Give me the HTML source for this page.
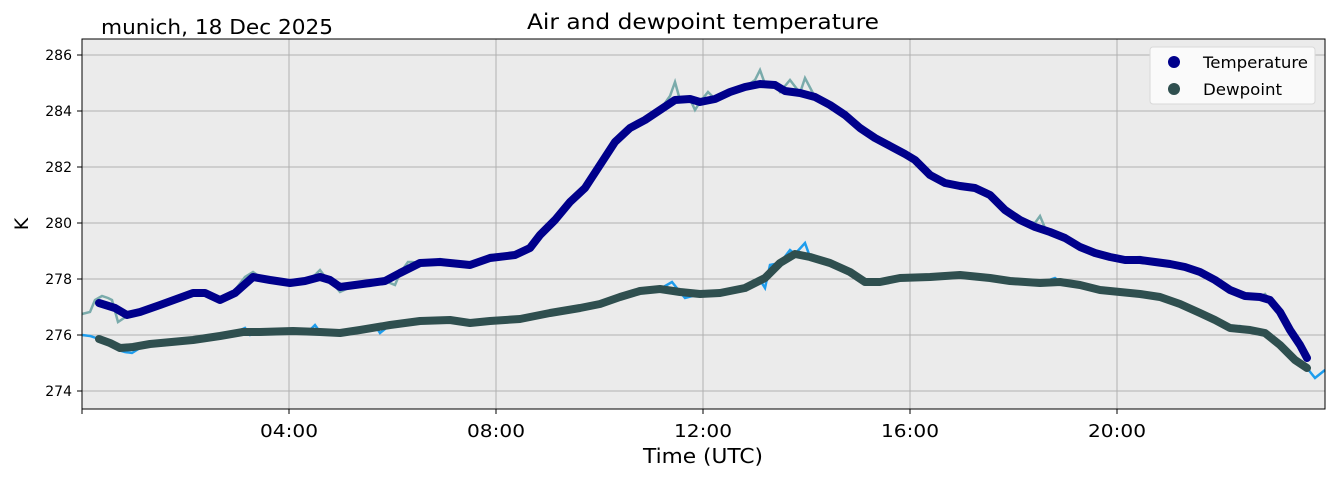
<!DOCTYPE html>
<html><head><meta charset="utf-8"><style>
body{margin:0;background:#fff;}
svg text{font-family:"DejaVu Sans","Liberation Sans",sans-serif;}
</style></head><body>
<svg width="1335" height="478" viewBox="0 0 1335 478" xmlns="http://www.w3.org/2000/svg">
<rect x="82" y="39" width="1243" height="370" fill="#ebebeb"/>
<g stroke="#b0b0b0" stroke-width="1">
<line x1="82" x2="1325" y1="55" y2="55"/><line x1="82" x2="1325" y1="111" y2="111"/>
<line x1="82" x2="1325" y1="167" y2="167"/><line x1="82" x2="1325" y1="223" y2="223"/>
<line x1="82" x2="1325" y1="279" y2="279"/><line x1="82" x2="1325" y1="335" y2="335"/>
<line x1="82" x2="1325" y1="391" y2="391"/>
<line y1="39" y2="409" x1="289" x2="289"/><line y1="39" y2="409" x1="496" x2="496"/>
<line y1="39" y2="409" x1="703" x2="703"/><line y1="39" y2="409" x1="910" x2="910"/>
<line y1="39" y2="409" x1="1117" x2="1117"/>
</g>
<!-- raw traces -->
<polyline fill="none" stroke="#7aabab" stroke-width="2.5" points="82,314 90,312 95,300 102,296 108,298 112,300 118,322 124,318 130,312 140,312 160,305 175,300 193,293 205,293 220,300 235,290 245,277 253,272 260,277 270,280 290,283 305,281 315,275 320,270 326,278 330,280 340,292 355,285 370,286 385,281 395,285 400,273 408,262 412,262 420,263 440,259 470,266 490,255 515,253 530,248 540,235 555,220 570,202 585,188 600,165 615,142 630,126 645,120 660,110 670,96 675,82 680,100 690,99 695,110 700,102 708,92 715,99 730,92 745,87 755,80 760,70 765,84 775,85 780,92 790,80 800,93 805,78 815,97 830,105 845,115 860,128 875,138 890,146 905,154 915,160 930,175 945,183 960,186 975,188 990,195 1005,210 1020,220 1035,223 1040,216 1045,228 1050,232 1065,238 1080,247 1095,253 1110,257 1125,258 1140,257 1155,262 1170,264 1185,267 1200,272 1215,280 1230,290 1245,296 1260,297 1265,294 1270,300 1280,312 1290,330 1300,345 1307,358"/>
<polyline fill="none" stroke="#1e9ded" stroke-width="2.5" points="82,335 90,336 99,339 110,343 118,350 125,352 132,353 140,348 160,343 190,341 210,340 230,335 245,328 250,335 260,332 290,331 310,330 315,325 320,332 340,333 360,330 375,325 380,333 390,325 420,321 450,320 470,323 490,321 520,319 550,313 580,308 600,304 620,297 640,291 660,289 672,282 680,292 685,298 700,294 720,293 745,288 760,280 765,288 770,265 780,263 790,250 795,254 805,243 810,257 830,263 850,272 865,282 880,282 900,278 930,277 960,275 990,278 1010,281 1040,283 1055,278 1060,282 1080,285 1100,290 1120,292 1140,294 1160,297 1180,304 1200,313 1215,320 1230,328 1240,326 1250,330 1265,333 1280,345 1295,360 1307,368 1315,378 1325,370"/>
<!-- smoothed -->
<polyline fill="none" stroke="#00008b" stroke-width="8" stroke-linejoin="round" stroke-linecap="round" points="99,303 115,308 127,315 140,312 160,305 193,293 205,293 220,300 235,293 253,277 270,280 290,283 305,281 320,277 330,280 340,287 355,285 370,283 385,281 400,273 420,263 440,262 470,265 490,258 515,255 530,248 540,235 555,220 570,202 585,188 600,165 615,142 630,128 645,120 660,110 675,100 690,99 700,102 715,99 730,92 745,87 760,84 775,85 785,91 800,93 815,97 830,105 845,115 860,128 875,138 890,146 905,154 915,160 930,175 945,183 960,186 975,188 990,195 1005,210 1020,220 1035,227 1050,232 1065,238 1080,247 1095,253 1110,257 1125,260 1140,260 1155,262 1170,264 1185,267 1200,272 1215,280 1230,290 1245,296 1260,297 1270,300 1280,312 1290,330 1300,345 1307,358"/>
<polyline fill="none" stroke="#2f4f4f" stroke-width="8" stroke-linejoin="round" stroke-linecap="round" points="99,339 110,343 120,348 133,347 150,344 193,340 220,336 243,332 260,332 293,331 320,332 340,333 360,330 390,325 420,321 450,320 470,323 490,321 520,319 550,313 580,308 600,304 620,297 640,291 660,289 680,292 700,294 720,293 745,288 765,278 780,263 795,254 810,257 830,263 850,272 865,282 880,282 900,278 930,277 960,275 990,278 1010,281 1040,283 1060,282 1080,285 1100,290 1120,292 1140,294 1160,297 1180,304 1200,313 1215,320 1230,328 1250,330 1265,333 1280,345 1295,360 1307,368"/>
<rect x="82" y="39" width="1243" height="370" fill="none" stroke="#000" stroke-width="1"/>
<g stroke="#000"><line x1="77" x2="82" y1="55" y2="55"/><line x1="77" x2="82" y1="111" y2="111"/><line x1="77" x2="82" y1="167" y2="167"/><line x1="77" x2="82" y1="223" y2="223"/><line x1="77" x2="82" y1="279" y2="279"/><line x1="77" x2="82" y1="335" y2="335"/><line x1="77" x2="82" y1="391" y2="391"/>
<line x1="82" x2="82" y1="409" y2="414"/><line x1="289" x2="289" y1="409" y2="414"/><line x1="496" x2="496" y1="409" y2="414"/><line x1="703" x2="703" y1="409" y2="414"/><line x1="910" x2="910" y1="409" y2="414"/><line x1="1117" x2="1117" y1="409" y2="414"/></g>
<g font-size="14" text-anchor="end" fill="#000"><text x="72" y="60">286</text><text x="72" y="116">284</text><text x="72" y="172">282</text><text x="72" y="228">280</text><text x="72" y="284">278</text><text x="72" y="340">276</text><text x="72" y="396">274</text></g>
<text x="260" y="437" font-size="18" textLength="58" lengthAdjust="spacingAndGlyphs">04:00</text>
<text x="467" y="437" font-size="18" textLength="58" lengthAdjust="spacingAndGlyphs">08:00</text>
<text x="674" y="437" font-size="18" textLength="58" lengthAdjust="spacingAndGlyphs">12:00</text>
<text x="881" y="437" font-size="18" textLength="58" lengthAdjust="spacingAndGlyphs">16:00</text>
<text x="1088" y="437" font-size="18" textLength="58" lengthAdjust="spacingAndGlyphs">20:00</text>
<text x="643" y="463" font-size="20" textLength="120" lengthAdjust="spacingAndGlyphs">Time (UTC)</text>
<text x="527" y="29" font-size="21" textLength="352" lengthAdjust="spacingAndGlyphs">Air and dewpoint temperature</text>
<text x="101" y="34" font-size="20" textLength="232" lengthAdjust="spacingAndGlyphs">munich, 18 Dec 2025</text>
<text x="28" y="224" font-size="19" text-anchor="middle" transform="rotate(-90 28 224)">K</text>
<rect x="1150" y="47" width="165" height="57" rx="3" fill="#fafafa" stroke="#d8d8d8"/>
<circle cx="1174" cy="62" r="6" fill="#00008b"/><circle cx="1174" cy="89" r="6" fill="#2f4f4f"/>
<text x="1203" y="68" font-size="16" textLength="105" lengthAdjust="spacingAndGlyphs">Temperature</text><text x="1203" y="95" font-size="16" textLength="79" lengthAdjust="spacingAndGlyphs">Dewpoint</text>
</svg>
</body></html>
